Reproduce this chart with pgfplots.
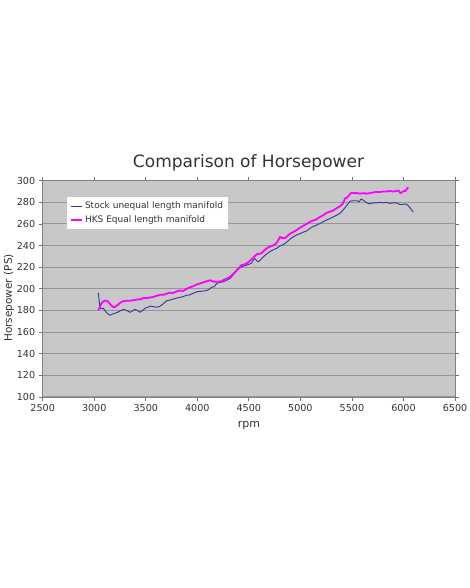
\documentclass[border=0pt]{standalone}
\usepackage{fontspec}
\setmainfont{DejaVu Sans}
\usepackage{pgfplots}
\pgfplotsset{compat=1.18}
\definecolor{stockblue}{RGB}{51,51,153}
\definecolor{hksmag}{RGB}{255,0,255}
\definecolor{plotbg}{RGB}{200,200,200}
\definecolor{gridc}{RGB}{150,150,150}
\begin{document}
\begin{tikzpicture}[x=1pt,y=1pt]
\path[use as bounding box] (0,0) rectangle (470,588);
\begin{axis}[
  at={(42.7pt,191pt)}, anchor=south west,
  scale only axis, width=412.3pt, height=216.3pt,
  xmin=2500, xmax=6500, ymin=100, ymax=300,
  xtick distance=500, ytick distance=20,
  /pgf/number format/assume math mode=true,
  /pgf/number format/set thousands separator={},
  axis background/.style={fill=plotbg},
  ymajorgrids=true, xmajorgrids=false,
  major grid style={gridc, line width=1pt},
  axis line style={draw=black!50, line width=0.8pt},
  tick align=outside, major tick length=4pt,
  tick style={black!55, line width=0.8pt},
  tick label style={font=\fontsize{9.6}{12}\selectfont, text=black!80},
  legend style={at={(0.059,0.925)}, anchor=north west, draw=none, fill=white,
    font=\fontsize{9}{11}\selectfont, inner xsep=3pt, inner ysep=3pt,
    row sep=1pt, text=black!80},
  legend cell align=left,
  legend image code/.code={\draw[#1] (0pt,0pt) -- (11pt,0pt);},
]
\addplot[stockblue, line width=0.9pt, line join=round] coordinates {
(3039,196.4) (3056,182) (3088,182) (3120,178) (3153,175.5) (3185,177) (3218,178)
(3250,179.5) (3283,181) (3315,180) (3347,178.3) (3370,179.5) (3395,181) (3420,180)
(3444,178.3) (3470,180) (3492,182) (3520,183) (3541,184) (3575,183.5) (3606,183)
(3630,183.5) (3654,185) (3680,187) (3703,189) (3750,190) (3800,191.4) (3850,192.5)
(3897,194) (3930,194.5) (3961,196) (4000,197.4) (4026,197.6) (4060,198) (4091,198.5)
(4115,199.5) (4139,201.5) (4165,202) (4188,205) (4220,206) (4252,206.5) (4285,208)
(4317,209.5) (4340,212) (4365,214.8) (4390,217.5) (4414,219.5) (4445,221) (4479,222)
(4510,223) (4527,224) (4545,227) (4559,228) (4575,226) (4592,225) (4615,227)
(4640,229.5) (4670,232) (4705,234.5) (4735,236) (4770,237.5) (4800,239.5) (4834,241)
(4865,243) (4899,246) (4930,248) (4966,250) (4996,251) (5030,252.5) (5060,253.5)
(5094,256) (5120,257.5) (5150,258.5) (5191,260.5) (5220,262) (5250,263.5) (5288,265)
(5320,266.5) (5350,268) (5385,270) (5410,272.5) (5433,275) (5460,278.5) (5482,281)
(5515,281.5) (5547,281.5) (5570,280.5) (5588,283) (5610,282) (5643,279.5) (5675,278.5)
(5705,279.5) (5740,279.5) (5770,280) (5800,279.5) (5837,280) (5870,279) (5900,279.5)
(5934,279.5) (5965,278) (5990,278) (6014,278.5) (6040,277.5) (6063,275) (6095,271)
};
\addlegendentry{Stock unequal length manifold}
\addplot[hksmag, line width=1.8pt, line join=round] coordinates {
(3039,180) (3056,183.5) (3072,187) (3088,188.5) (3104,189) (3120,189) (3137,188)
(3153,186) (3169,184.4) (3185,183) (3202,183.3) (3225,185) (3250,187) (3280,188.5)
(3315,189) (3350,189) (3380,189.5) (3412,190) (3450,190.5) (3480,191.5) (3509,191.5)
(3540,192) (3570,192.5) (3606,193.5) (3640,194.5) (3670,194.5) (3703,195.5) (3730,196.5)
(3760,196) (3800,197.6) (3830,198.5) (3860,198) (3897,200) (3930,201.5) (3961,202.5)
(3994,204) (4026,205) (4059,206) (4090,207) (4123,208) (4150,207) (4172,206.5)
(4200,206.5) (4230,207) (4252,208) (4285,209.5) (4317,211) (4350,214) (4381,217)
(4405,219.5) (4430,222) (4455,222.5) (4479,223.5) (4505,225.5) (4527,227.5) (4555,230)
(4576,232) (4600,232.5) (4624,233) (4655,236) (4689,238.5) (4720,239.5) (4754,241)
(4780,244) (4802,248) (4825,247) (4851,247) (4875,249) (4899,251) (4930,252.5)
(4966,254.5) (4997,256.5) (5030,258.5) (5060,260) (5094,262) (5120,263) (5150,264)
(5191,266.5) (5220,268) (5250,270) (5288,271.5) (5320,272.5) (5350,274.5) (5385,276.5)
(5410,278.5) (5433,283.5) (5460,285) (5480,287.5) (5498,289) (5520,288.5) (5550,288.5)
(5579,288) (5610,288.5) (5640,288) (5676,288.5) (5700,289) (5730,289.5) (5773,289.5)
(5800,290) (5830,290) (5870,290.5) (5900,290) (5934,290.5) (5951,291) (5970,288.5)
(5983,289) (6000,290.5) (6020,290.5) (6031,292) (6046,294)
};
\addlegendentry{HKS Equal length manifold}
\end{axis}
\node[font=\fontsize{17}{20}\selectfont, text=black!80] at (248.5,425.3) {Comparison of Horsepower};
\node[font=\fontsize{11}{13}\selectfont, text=black!80] at (249,162) {rpm};
\node[font=\fontsize{10.5}{13}\selectfont, text=black!80, rotate=90] at (9,290) {Horsepower (PS)};
\end{tikzpicture}
\end{document}
